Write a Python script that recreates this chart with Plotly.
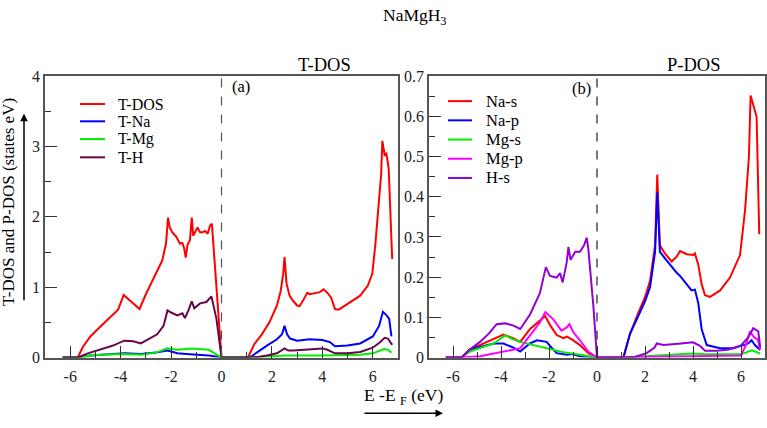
import plotly.graph_objects as go

W, H = 767, 428
FONT = "Liberation Serif"

# ---------------- Panel (a): T-DOS ----------------
tdos_E = [-6.3, -5.7, -5.5, -5.2, -4.8, -4.4, -4.1, -3.88, -3.6, -3.25, -3.0, -2.8, -2.55, -2.35, -2.2,
          -2.12, -2.05, -1.95, -1.8, -1.65, -1.55, -1.48, -1.42, -1.35, -1.25, -1.18, -1.12, -1.05,
          -0.95, -0.85, -0.75, -0.65, -0.55, -0.45, -0.38, 0.0, 1.05, 1.3, 1.6, 1.9, 2.2, 2.35, 2.45,
          2.5, 2.58, 2.7, 2.85, 3.0, 3.1, 3.25, 3.4, 3.5, 3.7, 3.9, 4.05, 4.2, 4.35, 4.5, 4.65, 4.9,
          5.2, 5.5, 5.8, 5.98, 6.1, 6.25, 6.33, 6.38, 6.47, 6.54, 6.63, 6.77]
tdos_V = [0, 0, 0.15, 0.3, 0.44, 0.57, 0.68, 0.89, 0.8, 0.69, 0.9, 1.05, 1.22, 1.38, 1.62,
          1.99, 1.85, 1.78, 1.72, 1.62, 1.63, 1.55, 1.42, 1.6, 1.67, 1.99, 1.73, 1.78,
          1.85, 1.78, 1.78, 1.8, 1.76, 1.88, 1.9, 0, 0, 0.19, 0.33, 0.5, 0.74, 0.95, 1.2,
          1.43, 1.05, 0.88, 0.8, 0.74, 0.73, 0.82, 0.92, 0.9, 0.92, 0.93, 0.97, 0.92, 0.85, 0.69, 0.68, 0.74,
          0.8, 0.88, 1.02, 1.19, 1.6, 2.2, 2.6, 3.08, 2.88, 2.9, 2.69, 1.40]

tna_E = [-6.3, -5.7, -5.2, -4.8, -3.86, -3.2, -2.6, -2.14, -1.75, -1.4, -1.0, -0.5, 0.0, 1.1, 1.28,
         1.5, 1.8, 2.2, 2.4, 2.5, 2.6, 2.72, 3.0, 3.5, 4.0, 4.3, 4.5, 5.0, 5.5, 6.0, 6.25, 6.4,
         6.55, 6.65, 6.74]
tna_V = [0, 0, 0.03, 0.04, 0.06, 0.05, 0.07, 0.1, 0.06, 0.05, 0.04, 0.03, 0, 0, 0.04,
         0.1, 0.17, 0.26, 0.33, 0.45, 0.33, 0.27, 0.24, 0.26, 0.25, 0.22, 0.16, 0.17, 0.2, 0.3, 0.45, 0.65,
         0.6, 0.55, 0.3]

tmg_E = [-6.3, -5.7, -5.2, -4.8, -3.86, -3.2, -2.6, -2.14, -1.75, -1.18, -0.5, -0.2, 0.0, 1.2, 2.5,
         4.0, 5.5, 6.0, 6.45, 6.6, 6.74]
tmg_V = [0, 0, 0.03, 0.04, 0.05, 0.04, 0.07, 0.13, 0.11, 0.13, 0.11, 0.05, 0, 0, 0.03,
         0.03, 0.04, 0.06, 0.12, 0.11, 0.07]

th_E = [-6.3, -5.7, -5.3, -4.8, -4.3, -3.86, -3.5, -3.2, -2.9, -2.55, -2.3, -2.14, -2.0, -1.75, -1.55,
        -1.45, -1.3, -1.18, -1.08, -0.85, -0.6, -0.45, -0.4, -0.2, 0.0, 1.1, 1.5, 1.8, 2.2, 2.5, 2.65,
        2.85, 3.5, 4.0, 4.2, 4.5, 5.0, 5.5, 6.0, 6.3, 6.47, 6.6, 6.77]
th_V = [0, 0, 0.06, 0.12, 0.17, 0.24, 0.23, 0.2, 0.26, 0.33, 0.45, 0.67, 0.64, 0.6, 0.63,
        0.56, 0.68, 0.8, 0.7, 0.77, 0.79, 0.85, 0.87, 0.55, 0, 0, 0.01, 0.03, 0.06, 0.13, 0.1,
        0.1, 0.12, 0.13, 0.11, 0.06, 0.06, 0.08, 0.14, 0.22, 0.28, 0.27, 0.18]

# ---------------- Panel (b): P-DOS ----------------
nas_E = [-6.3, -5.64, -5.3, -4.875, -4.3, -3.9, -3.5, -3.2, -2.79, -2.5, -2.16, -1.95, -1.68, -1.4,
         -1.26, -1.05, -0.71, -0.36, 0.0, 1.1, 1.375, 1.72, 2.0, 2.21, 2.42, 2.51, 2.62, 2.83, 3.11,
         3.32, 3.46, 3.74, 4.01, 4.08, 4.22, 4.36, 4.5, 4.71, 5.13, 5.54, 5.96, 6.17, 6.33, 6.4,
         6.51, 6.58, 6.65, 6.76]
nas_V = [0, 0, 0.02, 0.031, 0.045, 0.057, 0.048, 0.039, 0.071, 0.085, 0.103, 0.08, 0.056, 0.048,
         0.052, 0.045, 0.031, 0.011, 0, 0, 0.059, 0.111, 0.15, 0.191, 0.279, 0.455, 0.279, 0.259, 0.239,
         0.251, 0.265, 0.257, 0.255, 0.259, 0.231, 0.183, 0.155, 0.151, 0.167, 0.199, 0.255, 0.367, 0.5, 0.652,
         0.63, 0.617, 0.599, 0.307]

nap_E = [-6.3, -5.64, -5.3, -4.875, -4.3, -3.9, -3.5, -3.2, -2.8, -2.5, -2.1, -1.9, -1.68, -1.26,
         -1.05, -0.71, 0.0, 1.1, 1.375, 1.72, 2.0, 2.21, 2.42, 2.51, 2.62, 2.83, 3.04, 3.32, 3.46, 3.74,
         3.94, 4.08, 4.22, 4.36, 4.57, 5.13, 5.69, 6.1, 6.3, 6.44, 6.58, 6.8]
nap_V = [0, 0, 0.02, 0.027, 0.035, 0.035, 0.025, 0.015, 0.035, 0.043, 0.039, 0.025, 0.011, 0.007,
         0.009, 0.003, 0, 0, 0.059, 0.103, 0.14, 0.175, 0.263, 0.411, 0.263, 0.247, 0.231, 0.211, 0.203, 0.183,
         0.167, 0.169, 0.135, 0.071, 0.031, 0.023, 0.023, 0.031, 0.035, 0.043, 0.031, 0.019]

mgs_E = [-6.3, -5.64, -5.3, -4.875, -4.3, -3.83, -3.5, -3.2, -2.6, -2.1, -1.4, -0.71, 0.0, 1.1, 2.5,
         3.0, 4.0, 4.5, 5.5, 6.0, 6.45, 6.8]
mgs_V = [0, 0, 0.015, 0.023, 0.035, 0.055, 0.045, 0.039, 0.03, 0.023, 0.013, 0.007, 0, 0, 0.004,
         0.007, 0.01, 0.008, 0.007, 0.008, 0.018, 0.01]

mgp_E = [-6.3, -5.64, -4.875, -4.0, -3.2, -2.79, -2.38, -2.15, -1.82, -1.48, -1.26, -1.15, -0.99,
         -0.71, -0.36, 0.0, 1.1, 2.5, 6.0, 6.2, 6.37, 6.55, 6.7, 6.8]
mgp_V = [0, 0, 0.003, 0.013, 0.023, 0.055, 0.087, 0.113, 0.095, 0.067, 0.075, 0.083, 0.063,
         0.043, 0.015, 0, 0, 0.002, 0.005, 0.03, 0.065, 0.05, 0.045, 0.02]

hs_E = [-6.3, -5.64, -5.3, -4.875, -4.5, -4.18, -3.83, -3.5, -3.2, -2.79, -2.38, -2.13, -1.96, -1.68,
        -1.54, -1.43, -1.26, -1.19, -1.1, -0.91, -0.71, -0.54, -0.43, -0.36, -0.15, 0.0, 1.1, 1.6, 2.07,
        2.4, 2.49, 2.77, 3.5, 4.0, 4.29, 4.5, 5.0, 5.5, 6.0, 6.3, 6.51, 6.72, 6.8]
hs_V = [0, 0, 0.02, 0.039, 0.06, 0.083, 0.085, 0.08, 0.071, 0.107, 0.16, 0.225, 0.203, 0.199,
        0.21, 0.187, 0.238, 0.275, 0.243, 0.263, 0.263, 0.279, 0.298, 0.27, 0.127, 0, 0, 0.002, 0.011,
        0.025, 0.035, 0.031, 0.035, 0.038, 0.029, 0.017, 0.017, 0.02, 0.03, 0.05, 0.073, 0.065, 0.025]

x_ticks = [-6, -4, -2, 0, 2, 4, 6]
x_tick_text = ["-6", "-4", "-2", "0", "2", "4", "6"]
ya_ticks = [0, 1, 2, 3, 4]
ya_tick_text = ["0", "1", "2", "3", "4"]
yb_ticks = [0, 0.1, 0.2, 0.3, 0.4, 0.5, 0.6, 0.7]
yb_tick_text = ["0", "0.1", "0.2", "0.3", "0.4", "0.5", "0.6", "0.7"]

panel_a = [("T-DOS", tdos_E, tdos_V, "#ff0000"), ("T-Na", tna_E, tna_V, "#0000ff"),
           ("T-Mg", tmg_E, tmg_V, "#00ee00"), ("T-H", th_E, th_V, "#670748")]
panel_b = [("Na-s", nas_E, nas_V, "#ff0000"), ("Na-p", nap_E, nap_V, "#0000ff"),
           ("Mg-s", mgs_E, mgs_V, "#00ee00"), ("Mg-p", mgp_E, mgp_V, "#ff00ff"),
           ("H-s", hs_E, hs_V, "#9400d3")]

fig = go.Figure()
for name, e, v, c in panel_a:
    fig.add_trace(go.Scatter(x=e, y=v, name=name, mode="lines", line=dict(color=c, width=2),
                             xaxis="x", yaxis="y", showlegend=False))
for name, e, v, c in panel_b:
    fig.add_trace(go.Scatter(x=e, y=v, name=name, mode="lines", line=dict(color=c, width=2),
                             xaxis="x2", yaxis="y2", showlegend=False))

def px(x):
    return x / W

def py(y):
    return 1 - y / H

frame = "#555555"
tickc = "#333333"
axis_common = dict(showline=True, linecolor=frame, linewidth=1.5, mirror=True, showgrid=False,
                   zeroline=False, ticks="inside", tickcolor=tickc, tickwidth=1.2, ticklen=12,
                   tickfont=dict(family=FONT, size=16, color="#222222"))

fig.update_layout(
    width=W, height=H, margin=dict(l=0, r=0, t=0, b=0),
    paper_bgcolor="white", plot_bgcolor="white",
    font=dict(family=FONT, color="black"),
    showlegend=False,
    xaxis=dict(domain=[px(45), px(398)], range=[-7, 7], tickvals=x_ticks, ticktext=x_tick_text,
               minor=dict(ticks="inside", dtick=1, ticklen=6, tickcolor=tickc),
               ticklabelstandoff=4, anchor="y", **axis_common),
    yaxis=dict(domain=[py(364), py(71)], range=[0, 4], tickvals=ya_ticks, ticktext=ya_tick_text,
               minor=dict(ticks="inside", dtick=0.5, ticklen=6, tickcolor=tickc),
               anchor="x", **axis_common),
    xaxis2=dict(domain=[px(429), px(765)], range=[-7, 7], tickvals=x_ticks, ticktext=x_tick_text,
                minor=dict(ticks="inside", dtick=1, ticklen=6, tickcolor=tickc),
                ticklabelstandoff=4, anchor="y2", **axis_common),
    yaxis2=dict(domain=[py(364), py(71)], range=[0, 0.7], tickvals=yb_ticks, ticktext=yb_tick_text,
                minor=dict(ticks="inside", dtick=0.05, ticklen=6, tickcolor=tickc),
                anchor="x2", **axis_common),
)

# Fermi level dashed lines
fig.add_shape(type="line", xref="x", yref="y domain", x0=0, x1=0, y0=0, y1=1,
              line=dict(color="#555555", width=1.2, dash="dash"))
fig.add_shape(type="line", xref="x2", yref="y2 domain", x0=0, x1=0, y0=0, y1=1,
              line=dict(color="#222222", width=1.2, dash="dash"))

# Legends (line samples + labels)
legend_a_y = [100, 118, 136.5, 155.5]
legend_b_y = [97, 117, 137, 157, 177]
for (name, _, _, c), yy in zip(panel_a, legend_a_y):
    fig.add_shape(type="line", xref="paper", yref="paper", x0=px(80), x1=px(105), y0=py(yy), y1=py(yy),
                  line=dict(color=c, width=2))
    fig.add_annotation(text=name, x=px(116), y=py(yy), xref="paper", yref="paper", xanchor="left",
                       yanchor="middle", showarrow=False, font=dict(family=FONT, size=16, color="black"))
for (name, _, _, c), yy in zip(panel_b, legend_b_y):
    fig.add_shape(type="line", xref="paper", yref="paper", x0=px(448), x1=px(472), y0=py(yy), y1=py(yy),
                  line=dict(color=c, width=2))
    fig.add_annotation(text=name, x=px(484), y=py(yy), xref="paper", yref="paper", xanchor="left",
                       yanchor="middle", showarrow=False, font=dict(family=FONT, size=16.5, color="black"))

ann = [
    dict(text="NaMgH<sub>3</sub>", x=px(381), y=py(9), xanchor="left", yanchor="middle", size=17.5),
    dict(text="T-DOS", x=px(324), y=py(59), xanchor="center", yanchor="middle", size=18.5),
    dict(text="P-DOS", x=px(693), y=py(59), xanchor="center", yanchor="middle", size=18.5),
    dict(text="(a)", x=px(241), y=py(82), xanchor="center", yanchor="middle", size=16.5),
    dict(text="(b)", x=px(581), y=py(84), xanchor="center", yanchor="middle", size=16.5),
    dict(text="E -E <sub>F</sub> (eV)", x=px(362), y=py(405), xanchor="left", yanchor="middle", size=17.5),
]
for a in ann:
    fig.add_annotation(text=a["text"], x=a["x"], y=a["y"], xref="paper", yref="paper",
                       xanchor=a["xanchor"], yanchor=a["yanchor"], showarrow=False,
                       font=dict(family=FONT, size=a["size"], color="black"))

fig.add_annotation(text="T-DOS and P-DOS (states eV)", x=px(9), y=py(202), xref="paper", yref="paper",
                   textangle=-90, showarrow=False, xanchor="center", yanchor="middle",
                   font=dict(family=FONT, size=17, color="black"))

# Arrows
fig.add_annotation(text="", x=px(24), y=py(110), xref="paper", yref="paper", showarrow=True,
                   ax=0, ay=188, axref="pixel", ayref="pixel", arrowhead=2, arrowsize=1,
                   arrowwidth=1.5, arrowcolor="black")
fig.add_annotation(text="", x=px(443), y=py(422), xref="paper", yref="paper", showarrow=True,
                   ax=-80, ay=0, axref="pixel", ayref="pixel", arrowhead=2, arrowsize=1,
                   arrowwidth=1.5, arrowcolor="black")

fig.write_html("out.html", config={"displayModeBar": False},
               post_script="document.body.style.margin='0';document.body.style.overflow='hidden';")
